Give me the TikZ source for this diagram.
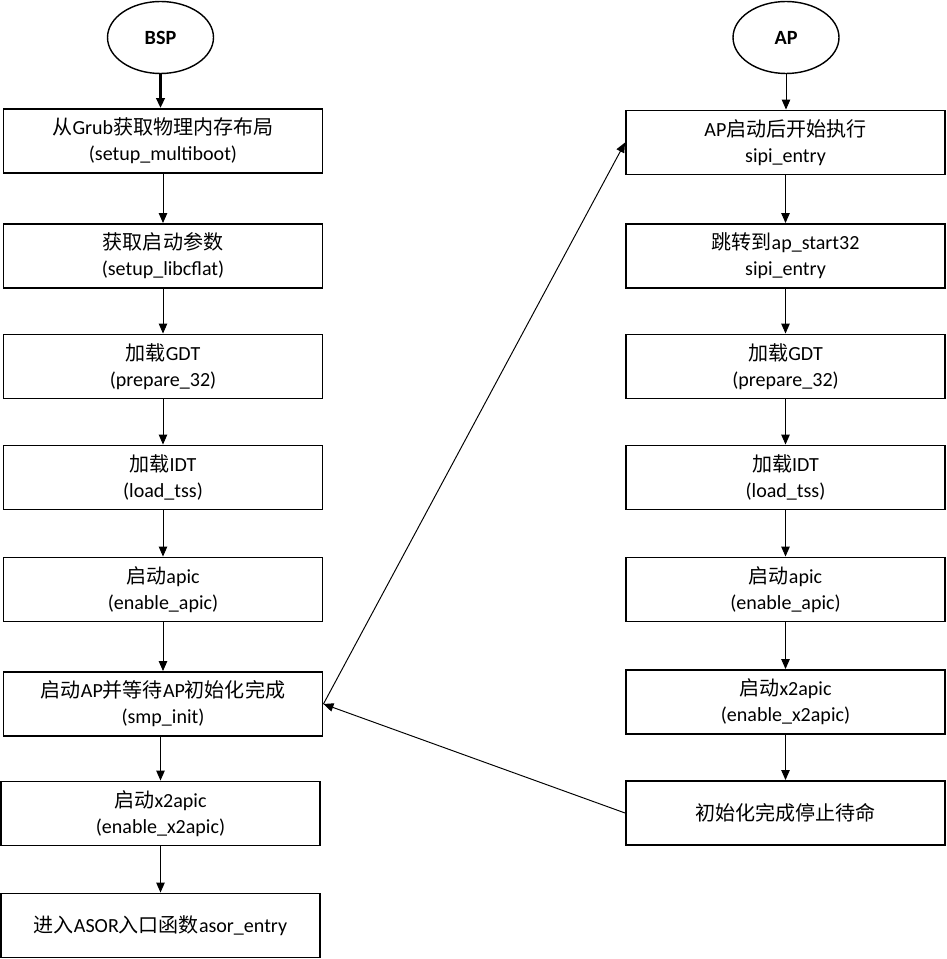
\documentclass[tikz,border=0pt]{standalone}
\usepackage{fontspec}
\setmainfont{Carlito}
\newfontfamily\cjk{Noto Sans CJK SC}
\newcommand{\zh}[1]{{\cjk #1}}
\usepackage{tikz}
\usetikzlibrary{arrows.meta, shapes}

\begin{document}
\begin{tikzpicture}[x=0.02cm,y=-0.02cm,
  box/.style={draw,line width=1.1pt,minimum width=6.38cm,minimum height=1.28cm,
    align=center,inner sep=0pt,font=\fontsize{11.4}{14.8}\selectfont},
  start/.style={draw,ellipse,line width=0.8pt,minimum width=2.12cm,minimum height=1.44cm,
    inner sep=0pt,font=\fontsize{11.5}{13}\selectfont\bfseries},
  arr/.style={-{Triangle[length=0.2cm,width=0.17cm]},line width=0.55pt}]
\useasboundingbox (0,0) rectangle (946,959);

% BSP side
\node[start](s) at (160.5,37.5) {BSP};
\node[box](s1) at (163,141) {\zh{从}Grub\zh{获取物理内存布局}\\(setup\_multiboot)};
\node[box](s2) at (163,256) {\zh{获取启动参数}\\(setup\_libcflat)};
\node[box](s3) at (163,366.5) {\zh{加载}GDT\\(prepare\_32)};
\node[box](s4) at (163,477.5) {\zh{加载}IDT\\(load\_tss)};
\node[box](s5) at (163,589.5) {\zh{启动}apic\\(enable\_apic)};
\node[box](s6) at (163,704) {\zh{启动}AP\zh{并等待}AP\zh{初始化完成}\\(smp\_init)};
\node[box](s7) at (160.5,813.5) {\zh{启动}x2apic\\(enable\_x2apic)};
\node[box](s8) at (160.5,925.5) {\zh{进入}ASOR\zh{入口函数}asor\_entry};
\draw[arr,line width=1.4pt] (s.south) -- (s.south |- s1.north);
\draw[arr] (s1) -- (s2);
\draw[arr] (s2) -- (s3);
\draw[arr] (s3) -- (s4);
\draw[arr] (s4) -- (s5);
\draw[arr] (s5) -- (s6);
\draw[arr] (s6.south -| s7) -- (s7);
\draw[arr] (s7) -- (s8);

% AP side
\node[start](a) at (786,37.5) {AP};
\node[box](a1) at (785.5,142.5) {AP\zh{启动后开始执行}\\sipi\_entry};
\node[box](a2) at (785.5,256) {\zh{跳转到}ap\_start32\\sipi\_entry};
\node[box](a3) at (785.5,366.5) {\zh{加载}GDT\\(prepare\_32)};
\node[box](a4) at (785.5,477.5) {\zh{加载}IDT\\(load\_tss)};
\node[box](a5) at (785.5,589.5) {\zh{启动}apic\\(enable\_apic)};
\node[box](a6) at (785.5,702) {\zh{启动}x2apic\\(enable\_x2apic)};
\node[box](a7) at (785.5,813) {\zh{初始化完成停止待命}};
\draw[arr] (a.south) -- (a.south |- a1.north);
\draw[arr] (a1) -- (a2);
\draw[arr] (a2) -- (a3);
\draw[arr] (a3) -- (a4);
\draw[arr] (a4) -- (a5);
\draw[arr] (a5) -- (a6);
\draw[arr] (a6) -- (a7);

% between the two
\draw[arr] (s6.east) -- (a1.west);
\draw[arr] (a7.west) -- (s6.east);
\end{tikzpicture}
\end{document}
